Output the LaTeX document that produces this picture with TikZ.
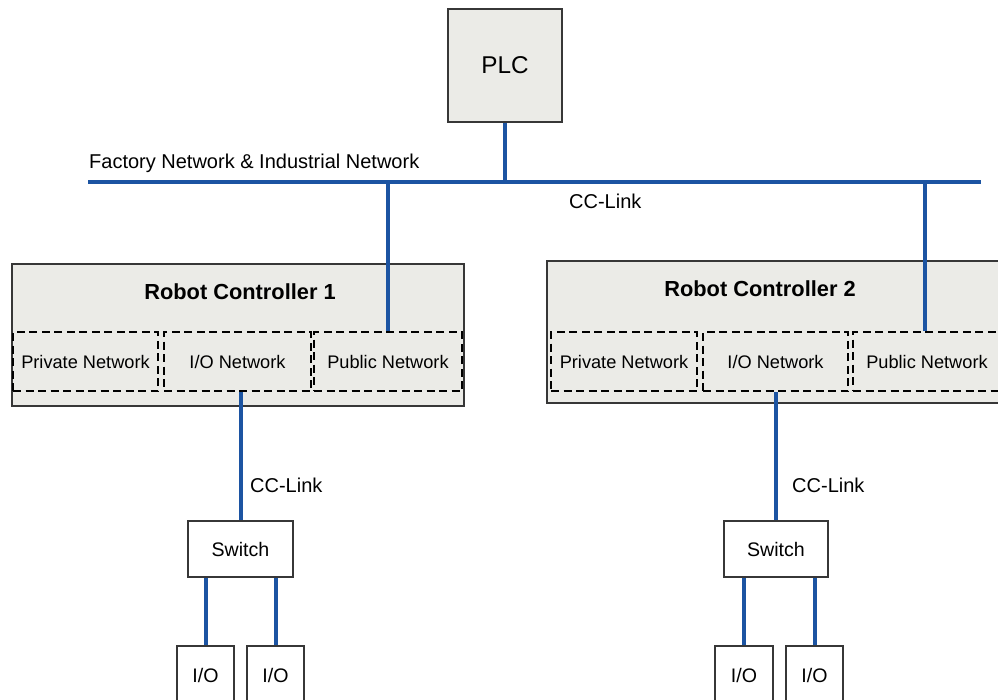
\documentclass[tikz,border=0pt]{standalone}
\usepackage{fontspec}
\setmainfont{Liberation Sans}
\definecolor{netblue}{RGB}{28,84,162}
\definecolor{boxfill}{RGB}{235,235,231}
\definecolor{boxline}{RGB}{55,55,55}
\begin{document}
\begin{tikzpicture}[x=1pt,y=-1pt,
  net/.style={draw=netblue,line width=4pt},
  graybox/.style={draw=boxline,line width=1.5pt,fill=boxfill,inner sep=0pt},
  whitebox/.style={draw=boxline,line width=1.5pt,fill=white,inner sep=0pt,font=\fontsize{19.6}{22}\selectfont},
  netbox/.style={draw=black,line width=2pt,dash pattern=on 8pt off 4.5pt,inner sep=0pt,minimum height=59pt,font=\fontsize{18.2}{21}\selectfont},
  lbl/.style={inner sep=0pt,font=\fontsize{20}{23}\selectfont},
  title/.style={inner sep=0pt,font=\bfseries\fontsize{21.8}{25}\selectfont,anchor=base}
]
\useasboundingbox[fill=white] (0,0) rectangle (998,699);

% PLC
\node[graybox,minimum width=114pt,minimum height=113pt,font=\fontsize{24.3}{28}\selectfont] (plc) at (505,65.5) {PLC};

% bus
\coordinate (busL) at (88,182);
\coordinate (busR) at (981,182);
\node[lbl,anchor=base west] (factory) at (89,168) {Factory Network \& Industrial Network};
\node[lbl,anchor=base west] (cc0) at (569,208) {CC-Link};

% Robot controller 1
\node[graybox,minimum width=452pt,minimum height=142pt] (rc1) at (238,335) {};
\node[title] (t1) at (240,299) {Robot Controller 1};
\node[netbox,minimum width=145pt] (priv1) at (85.5,361.5) {Private Network};
\node[netbox,minimum width=147pt] (io1) at (237.5,361.5) {I/O Network};
\node[netbox,minimum width=148pt] (pub1) at (388,361.5) {Public Network};

% Robot controller 2
\node[graybox,minimum width=459pt,minimum height=142pt] (rc2) at (776.5,332) {};
\node[title] (t2) at (760,296) {Robot Controller 2};
\node[netbox,minimum width=146pt] (priv2) at (624,361.5) {Private Network};
\node[netbox,minimum width=145pt] (io2) at (775.5,361.5) {I/O Network};
\node[netbox,minimum width=148pt] (pub2) at (927,361.5) {Public Network};

% switches
\node[whitebox,minimum width=105pt,minimum height=56pt] (sw1) at (240.5,549) {Switch};
\node[whitebox,minimum width=104pt,minimum height=56pt] (sw2) at (776,549) {Switch};
\node[lbl,anchor=base west] (cc1) at (250,492) {CC-Link};
\node[lbl,anchor=base west] (cc2) at (792,492) {CC-Link};

% I/O boxes
\node[whitebox,minimum width=57pt,minimum height=58pt] (ioa1) at (205.5,675) {I/O};
\node[whitebox,minimum width=57pt,minimum height=58pt] (iob1) at (275.5,675) {I/O};
\node[whitebox,minimum width=58pt,minimum height=58pt] (ioa2) at (744,675) {I/O};
\node[whitebox,minimum width=57pt,minimum height=58pt] (iob2) at (814.5,675) {I/O};

% connectors
\coordinate (pub2top) at ([xshift=-2pt]pub2.north);
\draw[net] (busL) -- (busR);
\draw[net] (plc.south) -- (plc.south |- busL);
\draw[net] (pub1.north) -- (pub1.north |- busL);
\draw[net] (pub2top) -- (pub2top |- busL);
\draw[net] (sw1.north) -- (sw1.north |- io1.south);
\draw[net] (sw2.north) -- (sw2.north |- io2.south);
\draw[net] (ioa1.north) -- (ioa1.north |- sw1.south);
\draw[net] (iob1.north) -- (iob1.north |- sw1.south);
\draw[net] (ioa2.north) -- (ioa2.north |- sw2.south);
\draw[net] (iob2.north) -- (iob2.north |- sw2.south);
\end{tikzpicture}
\end{document}
